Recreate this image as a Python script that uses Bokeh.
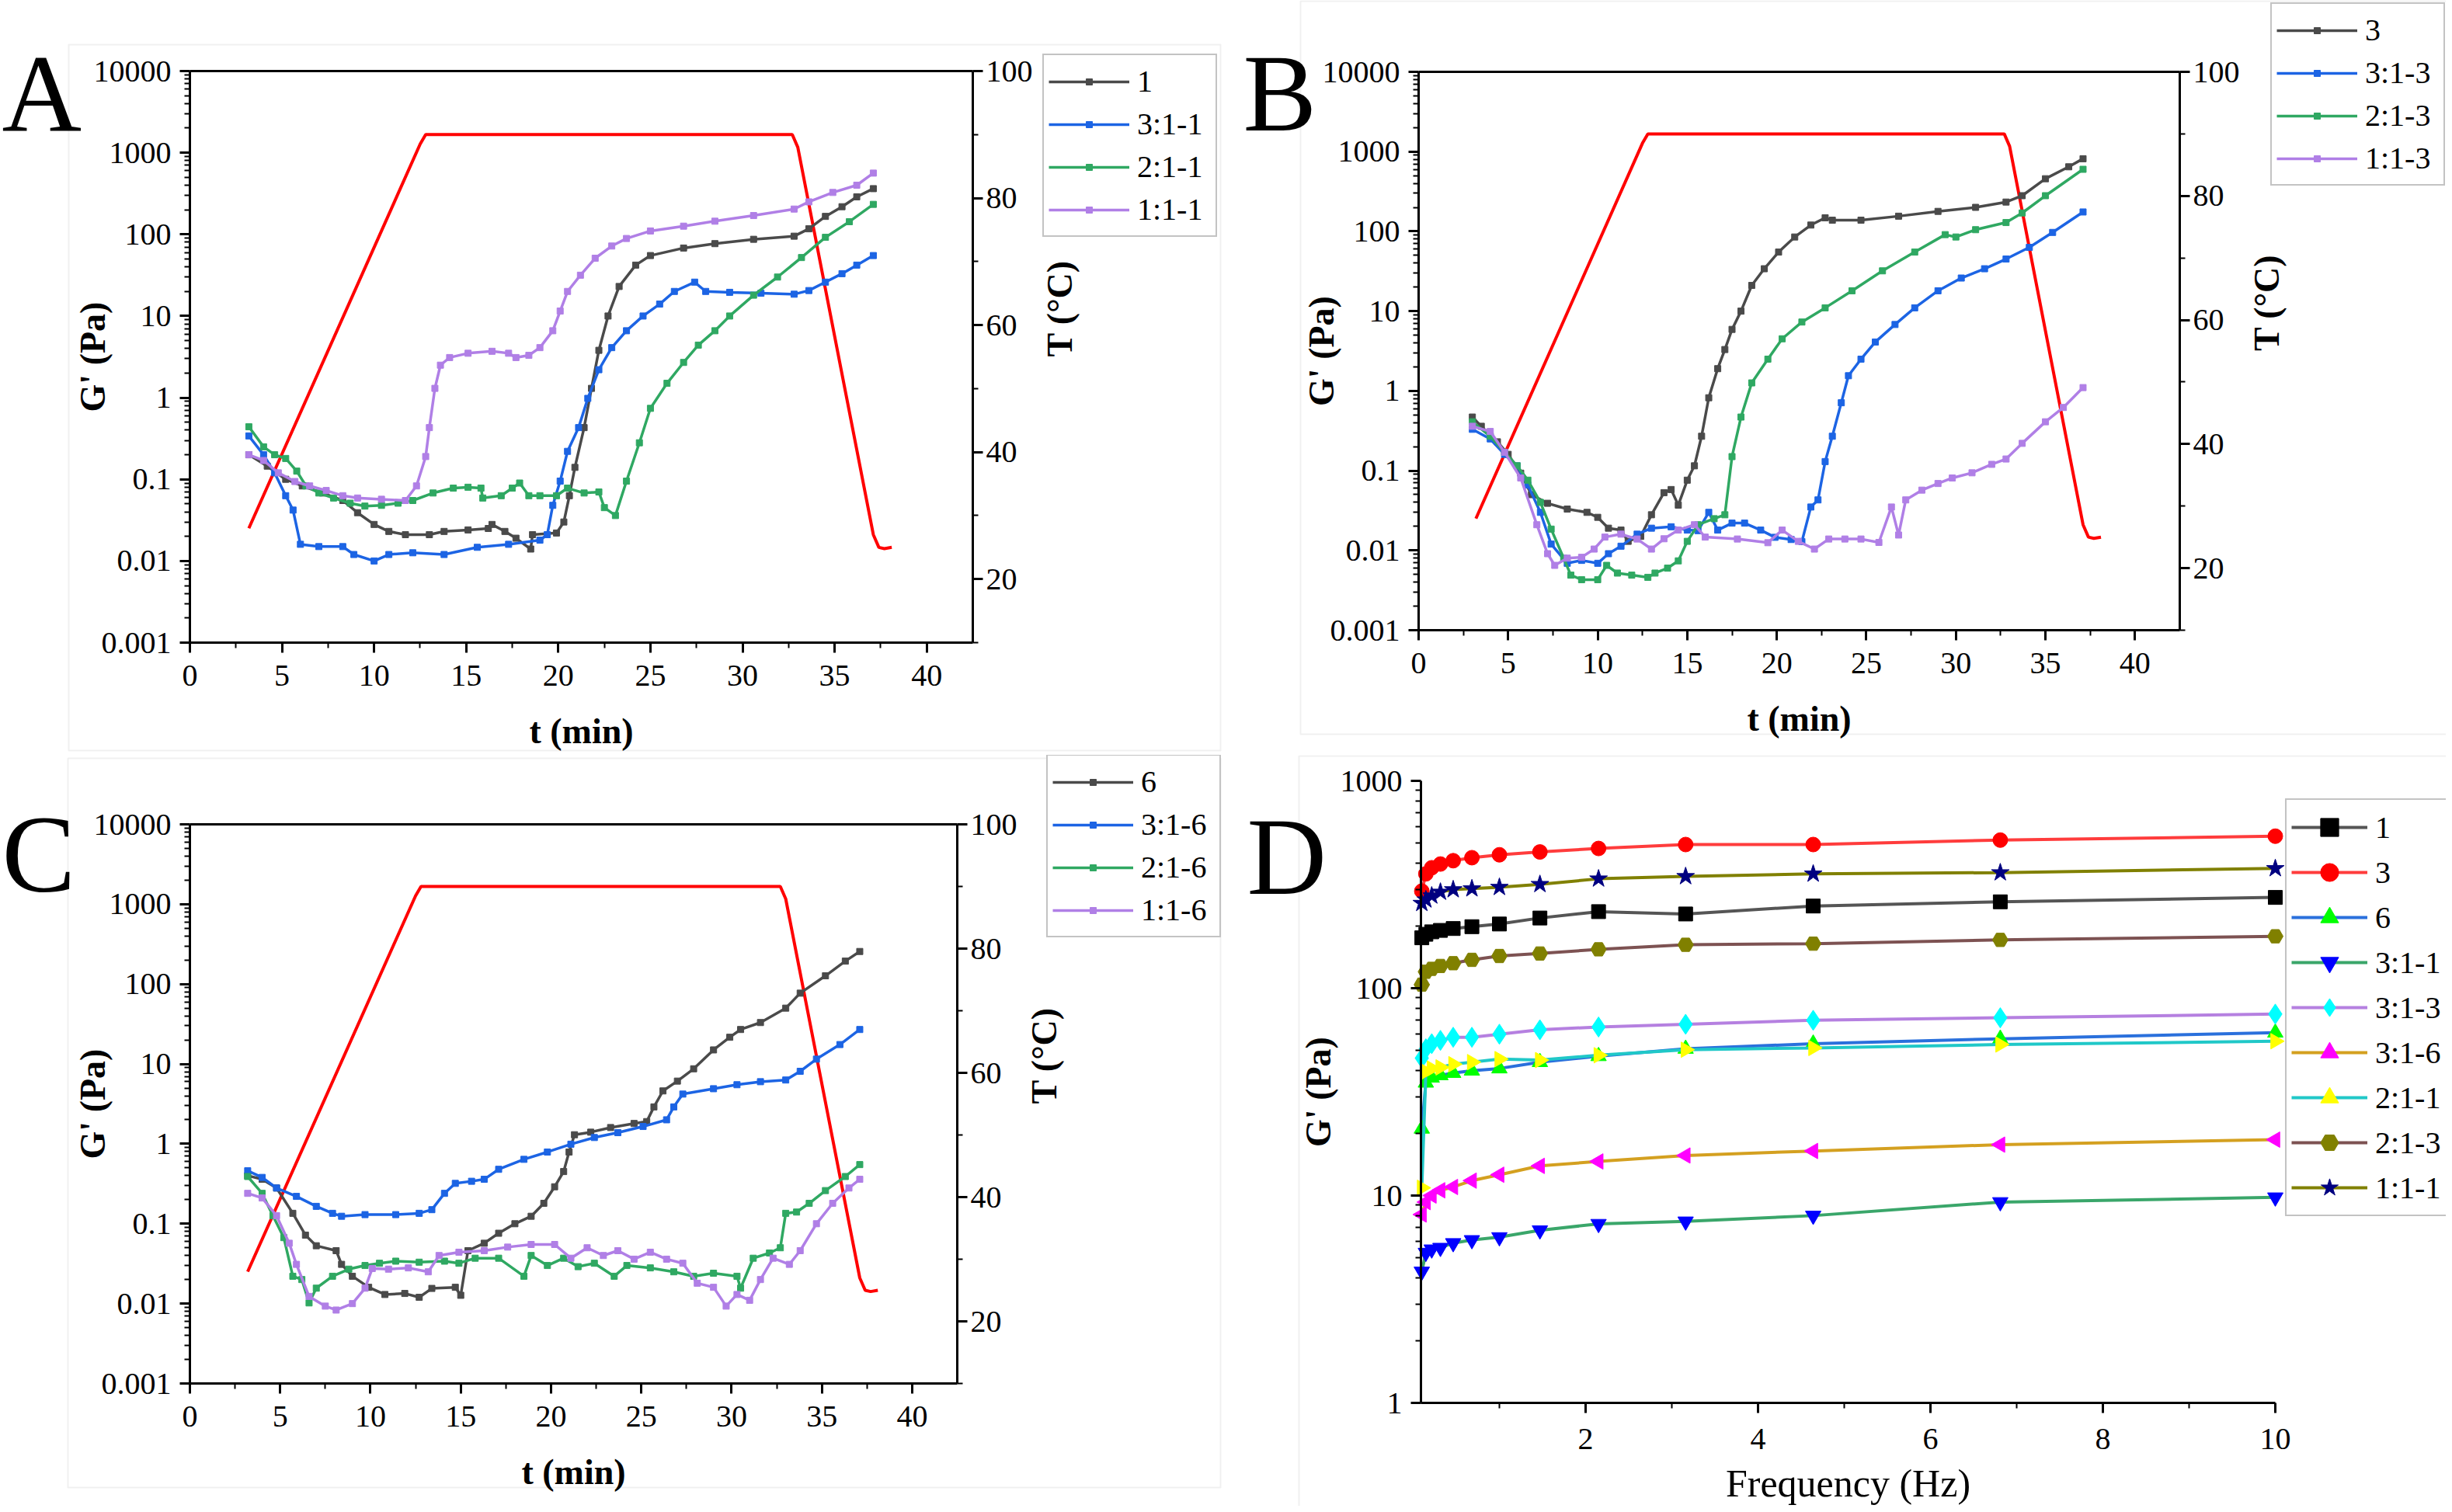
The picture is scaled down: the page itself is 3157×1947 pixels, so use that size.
import math
from bokeh.plotting import figure
from bokeh.models import (Range1d, LinearAxis, LogAxis, LinearScale, FixedTicker, Legend,
                          LegendItem, Label, BoxAnnotation, ColumnDataSource)
from bokeh.layouts import row, column
from bokeh.embed import file_html
from bokeh.resources import INLINE

FONT = "Liberation Serif"

# ---------------- shared axis data ----------------
g_ticks = [0.001, 0.01, 0.1, 1, 10, 100, 1000, 10000]
g_labels = ["0.001", "0.01", "0.1", "1", "10", "100", "1000", "10000"]
t_ticks = [0, 5, 10, 15, 20, 25, 30, 35, 40]
t_minor = [2.5, 7.5, 12.5, 17.5, 22.5, 27.5, 32.5, 37.5]
T_ticks = [20, 40, 60, 80, 100]
T_minor = [10, 30, 50, 70, 90]

# temperature programme (right axis)
temp_t = [3.2, 12.5, 12.8, 32.7, 33.0, 37.1, 37.4, 37.7, 38.1]
temp_T = [28.0, 88.5, 90.0, 90.0, 88.0, 27.0, 25.0, 24.8, 25.0]

# ---------------- panel A ----------------
A_t_1 = [3.2, 4.2, 5.2, 6.1, 7.2, 8.3, 9.1, 10.0, 10.8, 11.7, 13.0, 13.8, 15.1, 16.2, 16.4, 17.1, 17.7, 18.5, 18.6, 19.9,
         20.3, 20.6, 20.9, 21.4, 21.8, 22.2, 22.7, 23.3, 24.2, 25.0, 26.8, 28.5, 30.6, 32.8, 33.6, 34.5, 35.4, 36.2, 37.1]
A_g_1 = [0.2, 0.145, 0.10, 0.083, 0.068, 0.055, 0.039, 0.028, 0.023, 0.021, 0.021, 0.023, 0.024, 0.025, 0.028, 0.023, 0.019, 0.014, 0.021, 0.022,
         0.030, 0.063, 0.14, 0.43, 1.3, 3.8, 10, 23, 42, 55, 68, 77, 87, 95, 117, 166, 218, 288, 363]
A_t_311 = [3.2, 4.0, 4.6, 5.2, 5.6, 6.0, 7.0, 8.3, 8.9, 10.0, 10.8, 12.1, 13.8, 15.6, 17.3, 19.0, 19.4, 19.7, 20.1, 20.5,
           21.1, 21.6, 22.2, 22.9, 23.7, 24.6, 25.5, 26.3, 27.4, 28.0, 29.3, 31.0, 32.8, 33.6, 34.5, 35.4, 36.2, 37.1]
A_g_311 = [0.34, 0.2, 0.12, 0.063, 0.042, 0.016, 0.015, 0.015, 0.012, 0.010, 0.012, 0.0126, 0.012, 0.0147, 0.016, 0.018, 0.021, 0.048, 0.095, 0.22,
           0.43, 0.98, 2.2, 4.1, 6.6, 10, 14, 20, 26, 20, 19.5, 19, 18.5, 20.5, 26, 33, 42, 55]
A_t_211 = [3.2, 4.0, 4.6, 5.2, 5.8, 6.3, 7.0, 7.8, 8.7, 9.5, 10.4, 11.3, 12.1, 13.2, 14.3, 15.1, 15.8, 15.9, 16.9, 17.5,
           17.9, 18.4, 19.0, 19.9, 20.5, 21.4, 22.2, 22.5, 23.1, 23.7, 24.4, 25.0, 25.9, 26.8, 27.6, 28.5, 29.3, 30.6, 31.9, 33.2,
           34.5, 35.8, 37.1]
A_g_211 = [0.44, 0.25, 0.2, 0.18, 0.126, 0.083, 0.068, 0.059, 0.051, 0.047, 0.048, 0.051, 0.055, 0.068, 0.078, 0.08, 0.078, 0.059, 0.063, 0.078,
           0.09, 0.063, 0.063, 0.063, 0.078, 0.068, 0.07, 0.045, 0.036, 0.095, 0.28, 0.74, 1.5, 2.7, 4.4, 6.6, 10, 18, 30, 52,
           92, 143, 233]
A_t_111 = [3.2, 4.0, 4.8, 5.7, 6.5, 7.4, 8.3, 9.1, 10.4, 11.7, 12.3, 12.8, 13.0, 13.3, 13.6, 14.1, 15.1, 16.4, 17.3, 17.7,
           18.4, 19.0, 19.7, 20.1, 20.5, 21.2, 22.0, 22.9, 23.7, 25.0, 26.8, 28.5, 30.6, 32.8, 33.6, 34.9, 36.2, 37.1]
A_g_111 = [0.2, 0.17, 0.12, 0.094, 0.083, 0.073, 0.063, 0.059, 0.057, 0.055, 0.083, 0.19, 0.43, 1.3, 2.5, 3.1, 3.5, 3.7, 3.5, 3.1,
           3.3, 4.1, 6.6, 11.5, 20, 31.6, 51, 72, 89, 110, 126, 145, 170, 204, 250, 326, 400, 563]

# ---------------- panel B ----------------
B_t_3 = [3.0, 3.5, 4.4, 5.0, 5.7, 6.3, 7.2, 8.3, 9.4, 10.0, 10.6, 11.3, 11.7, 12.4, 13.0, 13.7, 14.1, 14.5, 15.0, 15.4,
         15.8, 16.2, 16.7, 17.1, 17.5, 18.0, 18.6, 19.3, 20.1, 21.0, 21.9, 22.7, 23.1, 24.7, 26.8, 29.0, 31.1, 32.8, 33.7, 35.0,
         36.3, 37.1]
B_g_3 = [0.47, 0.36, 0.23, 0.16, 0.093, 0.05, 0.039, 0.033, 0.030, 0.026, 0.019, 0.018, 0.013, 0.015, 0.028, 0.053, 0.058, 0.037, 0.076, 0.115,
         0.27, 0.82, 1.9, 3.3, 5.9, 10, 21, 34, 55, 85, 120, 148, 138, 138, 155, 178, 200, 233, 280, 457,
         645, 814]
B_t_313 = [3.0, 4.0, 4.8, 5.5, 6.1, 6.8, 7.4, 8.3, 9.1, 10.0, 10.6, 11.3, 12.2, 13.0, 14.1, 15.0, 15.6, 16.2, 16.7, 17.5,
           18.2, 19.1, 19.9, 20.8, 21.4, 21.9, 22.3, 22.7, 23.1, 23.6, 24.0, 24.7, 25.5, 26.6, 27.7, 29.0, 30.3, 31.6, 32.8, 34.1,
           35.4, 37.1]
B_g_313 = [0.33, 0.25, 0.16, 0.115, 0.066, 0.030, 0.012, 0.0069, 0.0075, 0.0069, 0.0091, 0.0113, 0.016, 0.019, 0.0198, 0.018, 0.0177, 0.03, 0.018, 0.022,
           0.022, 0.018, 0.0146, 0.0137, 0.0129, 0.035, 0.043, 0.13, 0.27, 0.71, 1.55, 2.5, 4.1, 6.8, 11, 18, 26, 34, 45, 63,
           97, 175]
B_t_213 = [3.0, 4.0, 4.8, 5.5, 6.1, 6.8, 7.4, 8.1, 8.5, 9.1, 10.0, 10.5, 11.1, 11.9, 12.8, 13.2, 13.9, 14.5, 15.0, 15.6,
           16.5, 17.1, 17.5, 18.0, 18.6, 19.5, 20.3, 21.4, 22.7, 24.2, 25.9, 27.7, 29.4, 30.0, 31.1, 32.8, 33.7, 35.0, 37.1]
B_g_213 = [0.41, 0.27, 0.17, 0.115, 0.076, 0.04, 0.0185, 0.008, 0.0049, 0.0043, 0.0043, 0.0065, 0.0052, 0.0049, 0.0046, 0.0052, 0.006, 0.0074, 0.013, 0.021,
           0.025, 0.028, 0.15, 0.47, 1.26, 2.5, 4.5, 7.3, 11, 18, 32, 55, 91, 85, 105, 129, 170, 280, 600]
B_t_113 = [3.0, 4.0, 4.8, 5.7, 6.6, 7.2, 7.6, 8.3, 9.1, 9.8, 10.4, 11.3, 12.2, 13.0, 13.7, 14.5, 15.4, 16.0, 17.8, 19.5,
           20.3, 21.2, 22.1, 22.9, 23.8, 24.7, 25.7, 26.4, 26.8, 27.2, 28.1, 29.0, 29.8, 30.9, 32.0, 32.8, 33.7, 35.0, 36.0, 37.1]
B_g_113 = [0.36, 0.31, 0.17, 0.081, 0.021, 0.0091, 0.0065, 0.008, 0.0082, 0.0104, 0.0147, 0.016, 0.0139, 0.0104, 0.014, 0.018, 0.021, 0.0147, 0.0139, 0.0125,
           0.018, 0.013, 0.0104, 0.0139, 0.0139, 0.0139, 0.0126, 0.035, 0.0156, 0.043, 0.057, 0.069, 0.081, 0.094, 0.12, 0.14, 0.22, 0.41, 0.62, 1.1]

# ---------------- panel C ----------------
C_t_6 = [3.2, 4.0, 4.8, 5.7, 6.4, 7.0, 8.1, 8.4, 9.0, 9.9, 10.8, 11.9, 12.7, 13.4, 14.7, 15.0, 15.4, 16.3, 17.1, 18.0,
         18.9, 19.6, 20.2, 20.7, 21.0, 21.3, 22.2, 23.3, 24.6, 25.3, 25.7, 26.2, 27.0, 27.9, 29.0, 29.9, 30.5, 31.6, 33.0, 33.8,
         35.2, 36.3, 37.1]
C_g_6 = [0.40, 0.36, 0.28, 0.135, 0.072, 0.053, 0.046, 0.031, 0.022, 0.016, 0.013, 0.0134, 0.012, 0.0155, 0.016, 0.0127, 0.046, 0.057, 0.076, 0.10,
         0.124, 0.18, 0.29, 0.45, 0.79, 1.3, 1.4, 1.6, 1.8, 1.9, 2.9, 4.6, 6.1, 8.7, 15, 21.6, 27, 33, 50, 77,
         127, 194, 256]
C_t_316 = [3.2, 4.0, 4.8, 5.9, 7.0, 7.9, 8.4, 9.7, 11.4, 12.7, 13.4, 14.1, 14.7, 15.6, 16.3, 17.1, 18.5, 19.8, 21.1, 22.4,
           23.7, 25.1, 26.4, 26.8, 27.3, 29.0, 30.3, 31.6, 33.0, 33.8, 34.7, 36.0, 37.1]
C_g_316 = [0.46, 0.38, 0.28, 0.22, 0.165, 0.135, 0.124, 0.13, 0.13, 0.135, 0.15, 0.24, 0.32, 0.34, 0.36, 0.48, 0.64, 0.79, 0.99, 1.2,
           1.38, 1.65, 2.0, 2.9, 4.2, 4.9, 5.5, 6.0, 6.3, 8.1, 11.5, 17.5, 27]
C_t_216 = [3.2, 4.0, 4.6, 5.2, 5.7, 6.2, 6.6, 7.0, 7.9, 8.8, 9.7, 10.5, 11.4, 12.7, 14.1, 14.9, 15.8, 17.1, 18.5, 18.9,
           19.8, 20.7, 21.5, 22.4, 23.5, 24.2, 25.5, 26.8, 27.9, 29.0, 30.3, 30.5, 31.2, 32.1, 32.7, 33.0, 33.6, 34.3, 35.2, 36.3,
           37.1]
C_g_216 = [0.39, 0.24, 0.126, 0.067, 0.022, 0.020, 0.0102, 0.0156, 0.022, 0.027, 0.030, 0.032, 0.034, 0.033, 0.034, 0.032, 0.037, 0.037, 0.022, 0.040,
           0.030, 0.037, 0.029, 0.032, 0.022, 0.030, 0.028, 0.025, 0.022, 0.024, 0.022, 0.0156, 0.037, 0.043, 0.05, 0.135, 0.14, 0.18, 0.26, 0.39,
           0.55]
C_t_116 = [3.2, 4.0, 4.8, 5.5, 5.9, 6.6, 7.5, 8.1, 9.0, 9.7, 10.1, 11.0, 12.1, 13.2, 13.8, 14.9, 16.3, 17.6, 18.9, 20.2,
           21.1, 22.0, 22.9, 23.7, 24.6, 25.5, 26.4, 27.3, 28.1, 29.0, 29.7, 30.3, 31.0, 31.6, 32.3, 33.2, 33.8, 34.7, 35.6, 36.5,
           37.1]
C_g_116 = [0.24, 0.21, 0.126, 0.057, 0.031, 0.0123, 0.0093, 0.0083, 0.01, 0.0156, 0.0275, 0.027, 0.028, 0.025, 0.040, 0.044, 0.046, 0.051, 0.055, 0.055,
           0.037, 0.050, 0.040, 0.046, 0.036, 0.044, 0.036, 0.032, 0.018, 0.016, 0.0093, 0.013, 0.011, 0.02, 0.037, 0.031, 0.046, 0.10, 0.18, 0.28,
           0.36]

# ---------------- panel D ----------------
D_freq = [0.1, 0.147, 0.215, 0.316, 0.464, 0.681, 1.0, 1.47, 2.15, 3.16, 4.64, 6.81, 10.0]
D_1 = [175, 182, 187, 190, 194, 198, 204, 218, 234, 228, 249, 261, 274]
D_3 = [294, 356, 381, 397, 412, 426, 440, 454, 472, 493, 493, 518, 541]
D_6 = [21, 35, 37, 38, 39, 40, 41, 44, 47, 51, 54, 57, 61]
D_311 = [4.3, 5.3, 5.5, 5.6, 5.9, 6.1, 6.3, 6.8, 7.3, 7.5, 8.0, 9.3, 9.8]
D_313 = [46, 51, 54, 56, 58, 58, 60, 63, 65, 67, 70, 72, 75]
D_316 = [8.1, 9.3, 10.0, 10.6, 11.0, 11.8, 12.6, 13.9, 14.6, 15.6, 16.4, 17.6, 18.6]
D_211 = [10.9, 39.6, 41, 41.5, 43, 44, 45.5, 45, 47.5, 50.5, 51.5, 53.5, 55.5]
D_213 = [104, 120, 124, 128, 132, 137, 143, 147, 154, 162, 164, 171, 178]
D_111 = [257, 267, 279, 291, 299, 302, 307, 317, 337, 346, 356, 361, 378]
D_ticks_y = [1, 10, 100, 1000]
D_labels_y = ["1", "10", "100", "1000"]
D_ticks_x = [2, 4, 6, 8, 10]
D_minor_x = [1, 3, 5, 7, 9]
D_xlim = (0.09, 10)
D_ylim = (1, 1000)

C_GRAY = "#4a4a4a"
C_BLUE = "#1c64e4"
C_GREEN = "#2fa862"
C_PURPLE = "#b07fe6"


def minor_log(lo, hi):
    return [k * 10.0 ** e for e in range(lo, hi) for k in range(2, 10)]


def lin_map(v0, v1, p0, p1, c):
    return v0 + (c - p0) * (v1 - v0) / (p1 - p0)


def style_axis(ax, title_size="46px", bold=True):
    ax.axis_line_width = 3
    ax.axis_line_color = "black"
    ax.major_tick_line_width = 3
    ax.minor_tick_line_width = 2
    ax.major_tick_out = 13
    ax.major_tick_in = 0
    ax.minor_tick_out = 7
    ax.minor_tick_in = 0
    ax.major_label_text_font = FONT
    ax.major_label_text_font_size = "40px"
    ax.major_label_text_color = "black"
    ax.axis_label_text_font = FONT
    ax.axis_label_text_font_size = title_size
    ax.axis_label_text_font_style = "bold" if bold else "normal"
    ax.axis_label_text_color = "black"


def base_fig(W, H, px, py, xlim, ylim_log):
    # the frame covers the whole canvas; data ranges are extended so that the plot
    # area (px, py in canvas pixels) maps onto xlim / ylim
    x0 = lin_map(xlim[0], xlim[1], px[0], px[1], 0)
    x1 = lin_map(xlim[0], xlim[1], px[0], px[1], W)
    ly_top = math.log10(ylim_log[1])
    ly_bot = math.log10(ylim_log[0])
    y0 = 10 ** lin_map(ly_top, ly_bot, py[0], py[1], H)
    y1 = 10 ** lin_map(ly_top, ly_bot, py[0], py[1], 0)
    p = figure(width=W, height=H, x_range=Range1d(x0, x1), y_range=Range1d(y0, y1),
               x_axis_type="linear", y_axis_type="log", title=None,
               x_axis_location=None, y_axis_location=None,
               output_backend="svg", toolbar_location=None,
               min_border_left=0, min_border_right=0, min_border_top=0, min_border_bottom=0)
    for g in p.grid:
        g.visible = False
    p.outline_line_color = None
    p.background_fill_color = "white"
    p.border_fill_color = "white"
    return p


def frame_box(p, H, box):
    l, t, r, b = box
    p.add_layout(BoxAnnotation(left=l, right=r, top=H - t, bottom=H - b,
                               left_units="screen", right_units="screen",
                               top_units="screen", bottom_units="screen",
                               fill_alpha=0, line_color="#cdcdcd", line_width=2, level="underlay"))


def letter(p, H, text, x, base):
    p.add_layout(Label(x=x, y=H - base, x_units="screen", y_units="screen", text=text,
                       text_font=FONT, text_font_size="142px", text_color="black",
                       text_baseline="alphabetic", text_align="left"))


def legend(p, H, items, left, bottom, glyph_w, glyph_h, row_h, label_w):
    leg = Legend(items=items, location=(left, H - bottom), orientation="vertical",
                 label_text_font=FONT, label_text_font_size="40px", label_text_color="black",
                 glyph_width=glyph_w, glyph_height=glyph_h, label_height=row_h, label_width=label_w,
                 label_standoff=10, spacing=0, padding=6, margin=0,
                 border_line_color="#888888", border_line_width=2,
                 background_fill_color="white", background_fill_alpha=1.0)
    p.add_layout(leg)


def tg_panel(W, H, px, py, series, leg_geom, let, let_pos, box):
    p = base_fig(W, H, px, py, (0, 42.5), (0.001, 10000))
    tl = lin_map(100, 10, py[0], py[1], H)
    th = lin_map(100, 10, py[0], py[1], 0)
    p.extra_y_ranges = {"T": Range1d(tl, th)}
    p.extra_y_scales = {"T": LinearScale()}

    frame_box(p, H, box)

    xa = LinearAxis(fixed_location=0.001, bounds=(0, 42.5),
                    ticker=FixedTicker(ticks=t_ticks, minor_ticks=t_minor), axis_label="t (min)")
    style_axis(xa)
    xa.major_label_standoff = 16
    xa.axis_label_standoff = 30
    p.add_layout(xa, "below")

    ya = LogAxis(fixed_location=0, bounds=(0.001, 10000),
                 ticker=FixedTicker(ticks=g_ticks, minor_ticks=minor_log(-3, 4)), axis_label="G' (Pa)")
    style_axis(ya)
    ya.major_label_overrides = dict(zip(g_ticks, g_labels))
    ya.major_label_standoff = 11
    ya.axis_label_standoff = -27
    p.add_layout(ya, "left")

    ta = LinearAxis(y_range_name="T", fixed_location=42.5, bounds=(10, 100),
                    ticker=FixedTicker(ticks=T_ticks, minor_ticks=T_minor), axis_label="T (°C)")
    style_axis(ta)
    ta.major_label_standoff = 4
    ta.axis_label_standoff = 32
    ta.axis_label_orientation = math.pi / 2
    p.add_layout(ta, "right")

    top = LinearAxis(fixed_location=10000, bounds=(0, 42.5), ticker=FixedTicker(ticks=[]))
    style_axis(top)
    p.add_layout(top, "above")

    p.line(temp_t, temp_T, y_range_name="T", line_color="#ff0000", line_width=4)
    items = []
    for lab, t, g, col in series:
        src = ColumnDataSource(dict(t=t, g=g))
        r1 = p.line("t", "g", source=src, line_color=col, line_width=3.5)
        r2 = p.scatter("t", "g", source=src, marker="square", size=8, fill_color=col, line_color=col)
        items.append(LegendItem(label=lab, renderers=[r1, r2]))
    legend(p, H, items, leg_geom[0], leg_geom[1], 104, 20, 55, 95)
    letter(p, H, let, let_pos[0], let_pos[1])
    return p


# ---- layout (canvas pixel budget) ----
WL, WR = 1593, 1556
H1, H2 = 972, 967

pA = tg_panel(WL, H1, (244, 1252), (91, 827),
              [("1", A_t_1, A_g_1, C_GRAY), ("3:1-1", A_t_311, A_g_311, C_BLUE),
               ("2:1-1", A_t_211, A_g_211, C_GREEN), ("1:1-1", A_t_111, A_g_111, C_PURPLE)],
              (1342, 305), "A", (2, 119), (88, 57, 1571, 966))

pB = tg_panel(WR, H1, (233, 1213), (92, 811),
              [("3", B_t_3, B_g_3, C_GRAY), ("3:1-3", B_t_313, B_g_313, C_BLUE),
               ("2:1-3", B_t_213, B_g_213, C_GREEN), ("1:1-3", B_t_113, B_g_113, C_PURPLE)],
              (1330, 239), "B", (7, 119), (81, 1, 1570, 945))

pC = tg_panel(WL, H2, (244, 1232), (89, 809),
              [("6", C_t_6, C_g_6, C_GRAY), ("3:1-6", C_t_316, C_g_316, C_BLUE),
               ("2:1-6", C_t_216, C_g_216, C_GREEN), ("1:1-6", C_t_116, C_g_116, C_PURPLE)],
              (1347, 235), "C", (2, 127), (87, 4, 1571, 943))

# ---- panel D ----
pD = base_fig(WR, H2, (236, 1336), (33, 834), D_xlim, D_ylim)
frame_box(pD, H2, (79, 1, 1570, 975))
dxa = LinearAxis(fixed_location=D_ylim[0], bounds=D_xlim,
                 ticker=FixedTicker(ticks=D_ticks_x, minor_ticks=D_minor_x), axis_label="Frequency (Hz)")
style_axis(dxa, title_size="50px", bold=False)
dxa.major_label_standoff = 20
dxa.axis_label_standoff = 13
pD.add_layout(dxa, "below")
dya = LogAxis(fixed_location=D_xlim[0], bounds=D_ylim,
              ticker=FixedTicker(ticks=D_ticks_y, minor_ticks=minor_log(0, 3)), axis_label="G' (Pa)")
style_axis(dya)
dya.major_label_overrides = dict(zip(D_ticks_y, D_labels_y))
dya.major_label_standoff = 11
dya.axis_label_standoff = 0
pD.add_layout(dya, "left")

D_series = [
    ("1", D_1, "#555555", "square", "#000000", 18, 0.0),
    ("3", D_3, "#ff3c3c", "circle", "#ff0000", 19, 0.0),
    ("6", D_6, "#2a70dc", "triangle", "#00ff00", 20, 0.0),
    ("3:1-1", D_311, "#3aa66a", "inverted_triangle", "#0000ff", 20, 0.0),
    ("3:1-3", D_313, "#b580e0", "diamond", "#00ffff", 26, 0.0),
    ("3:1-6", D_316, "#d4a020", "triangle", "#ff00ff", 20, math.pi / 2),
    ("2:1-1", D_211, "#20c8c8", "triangle", "#ffff00", 20, -math.pi / 2),
    ("2:1-3", D_213, "#7d5252", "hex", "#808000", 20, 0.0),
    ("1:1-1", D_111, "#808000", "star", "#000080", 24, 0.0),
]
d_items = []
for lab, vals, lc, mk, mc, ms, ang in D_series:
    src = ColumnDataSource(dict(f=D_freq, g=vals))
    r1 = pD.line("f", "g", source=src, line_color=lc, line_width=4)
    r2 = pD.scatter("f", "g", source=src, marker=mk, size=ms, angle=ang,
                    fill_color=mc, line_color=mc)
    d_items.append(LegendItem(label=lab, renderers=[r1, r2]))
legend(pD, H2, d_items, 1349, 594, 98, 58, 58, 87)
letter(pD, H2, "D", 12, 130)

layout = column(row(pA, pB), row(pC, pD))
open("out.html", "w").write(file_html(layout, INLINE))
